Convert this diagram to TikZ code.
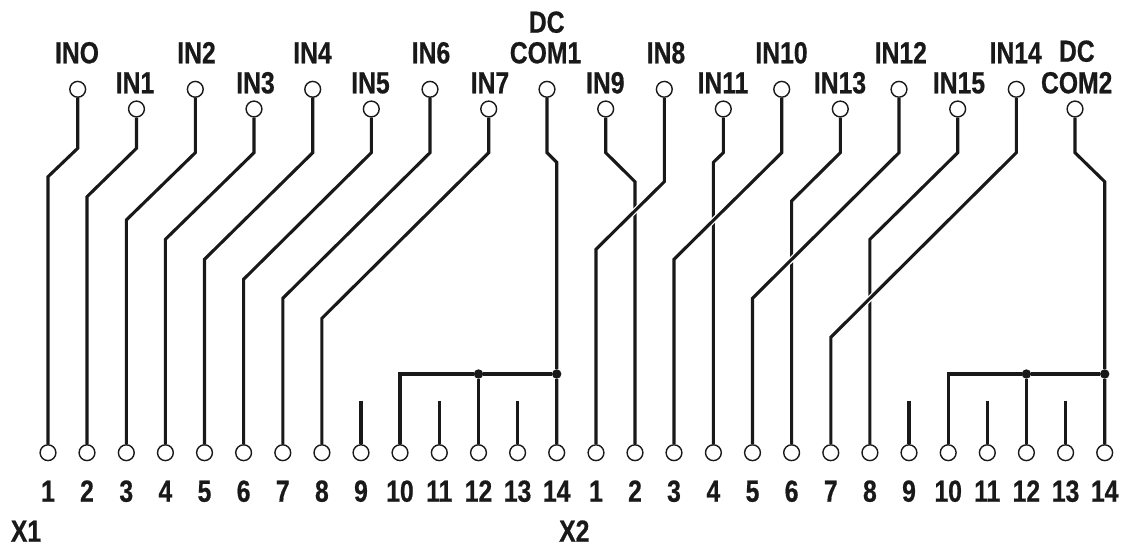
\documentclass[tikz,border=0pt]{standalone}
\usepackage{fontspec}
\newfontfamily\condbold[FakeStretch=0.81,FakeBold=0.6]{Liberation Sans Bold}
\tikzset{
  wire/.style={line width=3.1pt,draw=black!90,line join=miter},
  overwire/.style={wire,preaction={draw=white,line width=5.6pt}},
  term/.style={circle,draw=black!90,fill=white,line width=1.4pt,minimum size=15.8pt,inner sep=0pt},
  joint/.style={circle,fill=black!90,minimum size=9.4pt,inner sep=0pt},
  lab/.style={inner sep=0pt,anchor=base,font=\condbold\fontsize{30.5}{31}\selectfont,text=black!90},
}
\begin{document}
\begin{tikzpicture}[x=1pt,y=-1pt]
\useasboundingbox (0,0) rectangle (1124,549);
% bottom terminals and numbers
\foreach \n/\i/\x in {a1/1/48,a2/2/87,a3/3/126.3,a4/4/165.4,a5/5/204.5,a6/6/243.6,a7/7/282.8,a8/8/321.9,a9/9/361,a10/10/400,a11/11/439.3,a12/12/478.5,a13/13/517.6,a14/14/556.7,
  b1/1/596,b2/2/635,b3/3/674,b4/4/713.4,b5/5/752.5,b6/6/791.6,b7/7/830.8,b8/8/869.9,b9/9/909,b10/10/948.2,b11/11/987.3,b12/12/1026.4,b13/13/1065.6,b14/14/1104.7}{
  \node[term] (\n) at (\x,452.7) {};
  \node[lab] (num\n) at (\x,501.7) {\i};
}
% top terminals
\foreach \n/\x/\y in {in0/77.7/89.3,in1/136.5/109,in2/195.3/89.3,in3/254/109,in4/312.7/89.3,in5/371.3/109,in6/430/89.3,in7/488.7/109,com1/547/89.3,
  in9/605.7/109,in8/664.3/89.3,in11/723.3/109,in10/781.7/89.3,in13/840.3/109,in12/899/89.3,in15/957.7/109,in14/1016.3/89.3,com2/1075/109}{
  \node[term] (\n) at (\x,\y) {};
}
% labels
\foreach \n/\t/\x/\y in {l0/INO/77/63.3,l1/IN1/135/93.3,l2/IN2/196.5/63.3,l3/IN3/255.5/93.3,l4/IN4/312.5/63.3,l5/IN5/370.5/93.3,l6/IN6/431/63.3,l7/IN7/490/93.3,
  ldc1/DC/546.7/32.7,lc1/COM1/545.5/63.3,l9/IN9/605.3/93.3,l8/IN8/666/63.3,l11/IN11/723/93.3,l10/IN10/781.5/63.3,l13/IN13/840/93.3,l12/IN12/900.8/63.3,l15/IN15/959/93.3,l14/IN14/1015.7/63.3,
  ldc2/DC/1076.8/61.7,lc2/COM2/1076.7/93.3,lx1/X1/26/541.7,lx2/X2/574.3/541.7}{
  \node[lab] (\n) at (\x,\y) {\t};
}
% junctions
\node[joint] (j1) at (478.5,374) {};
\node[joint] (j2) at (556.7,374) {};
\node[joint] (j3) at (1026.4,374) {};
\node[joint] (j4) at (1104.7,374) {};
% stub tops
\coordinate (s9) at (361,400.7);
\coordinate (s11) at (439.3,400.7);
\coordinate (s13) at (517.6,400.7);
\coordinate (t9) at (909,400.7);
\coordinate (t11) at (987.3,400.7);
\coordinate (t13) at (1065.6,400.7);
% plain wires
\draw[wire] (in0) -- (77.7,148.3) -- (48,176.7) -- (a1);
\draw[wire] (in1) -- (136.5,148.3) -- (87,196.7) -- (a2);
\draw[wire] (in2) -- (195.3,152.7) -- (126.3,220) -- (a3);
\draw[wire] (in3) -- (254,152.7) -- (165.4,239.3) -- (a4);
\draw[wire] (in4) -- (312.7,152.7) -- (204.5,259.3) -- (a5);
\draw[wire] (in5) -- (371.3,152.7) -- (243.6,279.3) -- (a6);
\draw[wire] (in6) -- (430,152.7) -- (282.8,298.3) -- (a7);
\draw[wire] (in7) -- (488.7,152.7) -- (321.9,318.3) -- (a8);
\draw[wire] (com1) -- (547,152.7) -- (556.7,162.3) -- (j2) -- (a14);
\draw[wire] (in9) -- (605.7,152.7) -- (635,181.7) -- (b2);
\draw[wire] (in11) -- (723.3,152.7) -- (713.4,162.3) -- (b4);
\draw[wire] (in13) -- (840.3,152.7) -- (791.6,201) -- (b6);
\draw[wire] (in15) -- (957.7,152.7) -- (869.9,239.3) -- (b8);
\draw[wire] (com2) -- (1075,152.7) -- (1104.7,181.7) -- (j4) -- (b14);
% stubs and buses
\draw[wire] (s9) -- (a9);
\draw[wire] (s11) -- (a11);
\draw[wire] (s13) -- (a13);
\draw[wire] (t9) -- (b9);
\draw[wire] (t11) -- (b11);
\draw[wire] (t13) -- (b13);
\draw[wire] (a10) -- (400,374) -- (j1) -- (j2);
\draw[wire] (j1) -- (a12);
\draw[wire] (b10) -- (948.2,374) -- (j3) -- (j4);
\draw[wire] (j3) -- (b12);
% wires crossing over others
\draw[overwire] (in8) -- (664.3,181.7) -- (596,249.3) -- (b1);
\draw[overwire] (in10) -- (781.7,152.7) -- (674,259.3) -- (b3);
\draw[overwire] (in12) -- (899,152.7) -- (752.5,298.3) -- (b5);
\draw[overwire] (in14) -- (1016.3,152.7) -- (830.8,337.3) -- (b7);
\end{tikzpicture}
\end{document}
